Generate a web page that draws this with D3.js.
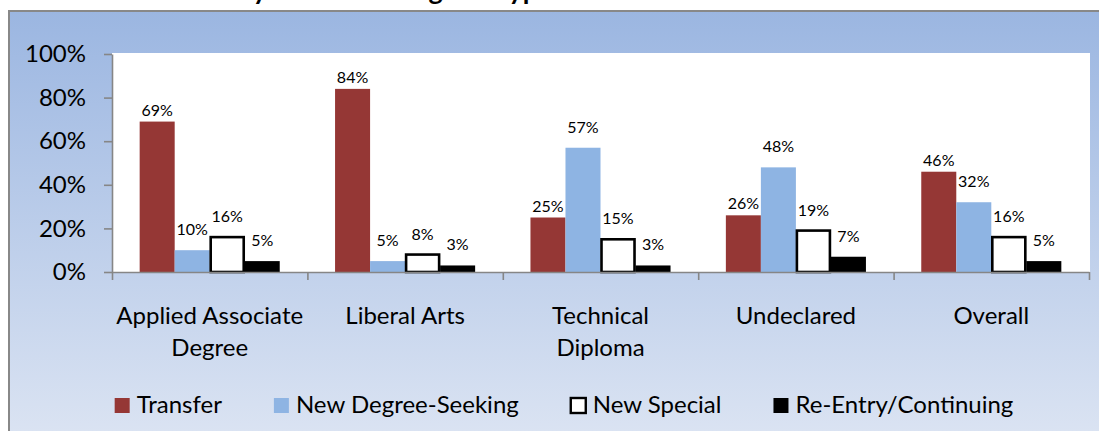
<!DOCTYPE html>
<html>
<head>
<meta charset="utf-8">
<script src="https://cdn.jsdelivr.net/npm/d3@7"></script>
<style>
  html, body { margin: 0; padding: 0; background: #fff; overflow: hidden; }
  svg { display: block; font-family: Lato, "Open Sans", sans-serif; }
</style>
</head>
<body>
<div id="chart"></div>
<script>
// chart data
var categories = ["Applied Associate Degree", "Liberal Arts", "Technical Diploma", "Undeclared", "Overall"];
var categoryLines = [["Applied Associate", "Degree"], ["Liberal Arts"], ["Technical", "Diploma"], ["Undeclared"], ["Overall"]];
var seriesNames = ["Transfer", "New Degree-Seeking", "New Special", "Re-Entry/Continuing"];
var transfer = [69, 84, 25, 26, 46];
var newDegreeSeeking = [10, 5, 57, 48, 32];
var newSpecial = [16, 8, 15, 19, 16];
var reEntry = [5, 3, 3, 7, 5];
var yTicks = [0, 20, 40, 60, 80, 100];
var title = "Enrollment by Intended Program Type";

var seriesValues = [transfer, newDegreeSeeking, newSpecial, reEntry];
var fills = ["#953735", "#8eb4e3", "#ffffff", "#000000"];
var strokes = ["none", "none", "#000000", "none"];
// how far the value labels sit above the bars (per series)
var labelLift = [6, 15, 15, 15];

var W = 1099, H = 431;
var plot = {left: 112, right: 1089, top: 54, bottom: 272};
var fontSize = "24px";

var svg = d3.select("#chart").append("svg")
    .attr("width", W)
    .attr("height", H);

var defs = svg.append("defs");
var grad = defs.append("linearGradient")
    .attr("id", "bg")
    .attr("x1", 0).attr("y1", 0).attr("x2", 0).attr("y2", 1);
grad.append("stop").attr("offset", "0%").attr("stop-color", "#9bb6e1");
grad.append("stop").attr("offset", "100%").attr("stop-color", "#dde5f3");

// outer frame (runs past the right and bottom edge of the picture)
svg.append("rect")
    .attr("x", 9)
    .attr("y", 11)
    .attr("width", 1120)
    .attr("height", 440)
    .attr("fill", "url(#bg)")
    .attr("stroke", "#888888")
    .attr("stroke-width", 2);

// title, cut off at the top like in the source
svg.append("text")
    .attr("x", 100)
    .attr("y", 0)
    .attr("font-weight", "bold")
    .attr("font-size", "27px")
    .attr("fill", "#000")
    .text(title);

svg.append("rect")
    .attr("x", plot.left)
    .attr("y", plot.top - 1)
    .attr("width", plot.right - plot.left + 1)
    .attr("height", plot.bottom - plot.top + 1)
    .attr("fill", "#ffffff");

var x = d3.scaleBand()
    .domain(categories)
    .range([plot.left, plot.right])
    .paddingInner(0)
    .paddingOuter(0);

var xSub = d3.scaleBand()
    .domain(seriesNames)
    .range([0, x.bandwidth()])
    .paddingInner(0)
    .paddingOuter(0.79);

var y = d3.scaleLinear()
    .domain([0, 100])
    .range([plot.bottom, plot.top]);

// bars
var rows = categories.map(function(c, i) {
    return seriesNames.map(function(s, j) {
        return {cat: c, series: s, j: j, value: seriesValues[j][i]};
    });
});

var groups = svg.selectAll(".group")
    .data(rows)
  .enter().append("g")
    .attr("class", "group")
    .attr("transform", function(d, i) { return "translate(" + x(categories[i]) + ",0)"; });

groups.selectAll("rect")
    .data(function(d) { return d; })
  .enter().append("rect")
    .attr("x", function(d) { return xSub(d.series) + (d.j == 2 ? 1 : 0); })
    .attr("y", function(d) { return y(d.value); })
    .attr("width", function(d) { return xSub.bandwidth() - (d.j == 2 ? 2 : 0); })
    .attr("height", function(d) { return y(0) - y(d.value); })
    .attr("fill", function(d) { return fills[d.j]; })
    .attr("stroke", function(d) { return strokes[d.j]; })
    .attr("stroke-width", 2.6);

// axes
var yAxis = d3.axisLeft(y)
    .tickValues(yTicks)
    .tickSize(8)
    .tickSizeOuter(0)
    .tickPadding(18)
    .tickFormat(function(d) { return d + "%"; });

var gy = svg.append("g")
    .attr("transform", "translate(" + plot.left + ",0)")
    .call(yAxis);
gy.selectAll("text")
    .attr("font-family", "Lato, sans-serif")
    .attr("font-size", fontSize)
    .attr("fill", "#000");

var bounds = d3.scaleLinear()
    .domain([0, categories.length])
    .range([plot.left, plot.right]);
var xAxis = d3.axisBottom(bounds)
    .tickValues(d3.range(categories.length + 1))
    .tickSize(8)
    .tickSizeOuter(0)
    .tickFormat("");
svg.append("g")
    .attr("transform", "translate(0," + plot.bottom + ")")
    .call(xAxis);

svg.selectAll(".domain, .tick line")
    .attr("stroke", "#868686")
    .attr("stroke-width", 1.6);

// value labels
groups.selectAll(".val")
    .data(function(d) { return d; })
  .enter().append("text")
    .attr("class", "val")
    .attr("x", function(d) { return xSub(d.series) + xSub.bandwidth() / 2; })
    .attr("y", function(d) { return y(d.value) - labelLift[d.j]; })
    .attr("text-anchor", "middle")
    .attr("font-size", "16px")
    .attr("fill", "#000")
    .text(function(d) { return d.value + "%"; });

// category labels
var catText = svg.selectAll(".cat")
    .data(categories)
  .enter().append("text")
    .attr("class", "cat")
    .attr("text-anchor", "middle")
    .attr("font-size", fontSize)
    .attr("fill", "#000")
    .attr("transform", function(d) { return "translate(" + (x(d) + x.bandwidth() / 2) + ",324)"; });
catText.selectAll("tspan")
    .data(function(d, i) { return categoryLines[i]; })
  .enter().append("tspan")
    .attr("x", 0)
    .attr("y", function(d, i) { return i * 32; })
    .text(function(d) { return d; });

// legend
var legend = svg.append("g").attr("class", "legend");
var items = legend.selectAll("g")
    .data(seriesNames)
  .enter().append("g");
items.append("rect")
    .attr("x", 0)
    .attr("y", -15)
    .attr("width", 15)
    .attr("height", 15)
    .attr("fill", function(d, i) { return fills[i]; })
    .attr("stroke", function(d, i) { return strokes[i]; })
    .attr("stroke-width", 2.4);
items.append("text")
    .attr("x", 22)
    .attr("y", 0)
    .attr("font-size", fontSize)
    .attr("fill", "#000")
    .text(function(d) { return d; });

var pos = 0, offsets = [];
items.each(function() {
    offsets.push(pos);
    pos += 22 + d3.select(this).select("text").node().getComputedTextLength() + 52;
});
var total = pos - 52;
var startX = 564 - total / 2;
items.attr("transform", function(d, i) { return "translate(" + (startX + offsets[i]) + ",413)"; });
</script>
</body>
</html>
